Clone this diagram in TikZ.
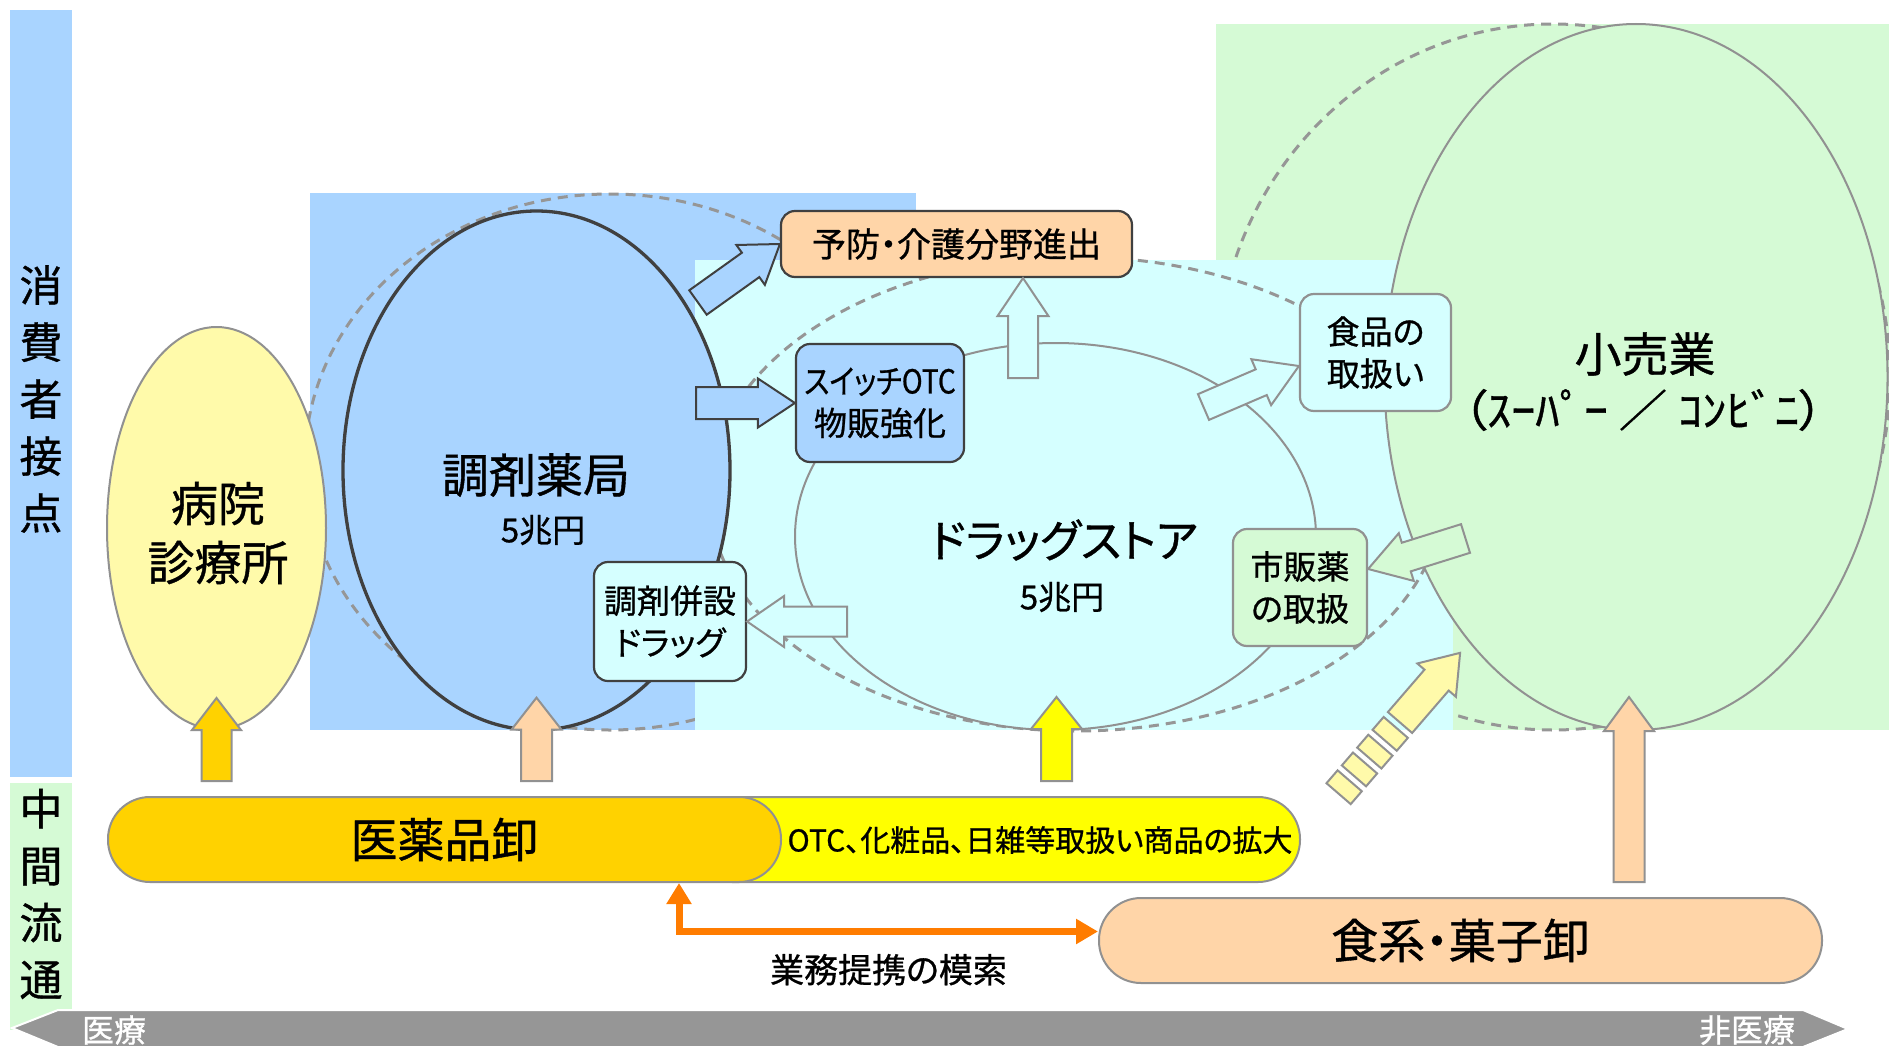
\documentclass[tikz,border=0pt]{standalone}
\usepackage{fontspec}
\setmainfont{Noto Sans CJK JP}[RawFeature=+palt, FakeBold=0.8]
\usetikzlibrary{calc,shapes.geometric,arrows.meta}

\definecolor{iryoblue}{RGB}{169,212,255}
\definecolor{dscyan}{RGB}{213,255,255}
\definecolor{kgreen}{RGB}{213,250,213}
\definecolor{paleyellow}{RGB}{255,250,170}
\definecolor{peach}{RGB}{255,213,168}
\definecolor{gold}{RGB}{255,210,0}
\definecolor{otcyellow}{RGB}{255,255,0}
\definecolor{teikeiorange}{RGB}{255,124,0}
\definecolor{axisgrey}{RGB}{150,150,150}
\definecolor{lgrey}{RGB}{145,145,145}
\definecolor{dgrey}{RGB}{64,64,64}

% block arrow: [style]{tail}{tip}{half shaft}{half head}{head length}
\newcommand{\blockarrow}[6][]{%
  \coordinate (hb) at ($(#3)!#6!(#2)$);
  \draw[#1] ($(#2)!#4!90:(#3)$) -- ($(hb)!#4!90:(#3)$) -- ($(hb)!#5!90:(#3)$)
    -- (#3) -- ($(hb)!#5!-90:(#3)$) -- ($(hb)!#4!-90:(#3)$)
    -- ($(#2)!#4!-90:(#3)$) -- cycle;}

\begin{document}
\begin{tikzpicture}[x=1pt, y=-1pt,
  bartxt/.style={align=center, font={\fontsize{43pt}{57pt}\selectfont}},
  bigtxt/.style={align=center, font={\fontsize{47pt}{59pt}\selectfont}},
  sumtxt/.style={font={\fontsize{33pt}{40pt}\selectfont}},
  boxtxt/.style={align=center, font={\fontsize{33pt}{42pt}\selectfont}},
  axistxt/.style={text=white, font={\fontsize{32pt}{38pt}\selectfont}},
  grp/.style={draw=axisgrey, line width=3pt, dash pattern=on 10pt off 7pt},
  oval/.style={ellipse, draw=lgrey, line width=2pt, inner sep=0pt},
  tagbox/.style={rectangle, rounded corners=14pt, line width=2.2pt, inner sep=0pt},
  pill/.style={rectangle, draw=lgrey, line width=2pt, rounded corners=42pt, minimum height=85pt, inner sep=0pt},
  bluearr/.style={draw=dgrey, line width=2pt, fill=iryoblue},
  cyanarr/.style={draw=lgrey, line width=2pt, fill=dscyan},
  greenarr/.style={draw=lgrey, line width=2pt, fill=kgreen},
  uparr/.style={draw=lgrey, line width=2pt, fill=#1},
  stripe/.style={draw=lgrey, line width=2pt, fill=paleyellow},
  teikei/.style={draw=teikeiorange, line width=7pt,
    {Triangle[width=24pt,length=21pt]}-{Triangle[width=24pt,length=22pt]}}]

  \useasboundingbox (0,0) rectangle (1889,1049);

  % side bars and axis
  \fill[iryoblue] (10,10) rectangle (72,777);
  \fill[kgreen] (10,783) rectangle (72,1030);
  \node[bartxt] (shohi) at (41,399) {消\\費\\者\\接\\点};
  \node[bartxt] (chukan) at (41,894) {中\\間\\流\\通};
  \draw[white, line width=2pt, fill=axisgrey] (12,1028) -- (58,1010) -- (1803,1010)
    -- (1848,1029) -- (1803,1047) -- (58,1047) -- cycle;
  \node[axistxt] (iryo) at (114,1030) {医療};
  \node[axistxt] (hiiryo) at (1747,1030) {非医療};

  % areas
  \fill[iryoblue] (310,193) rectangle (916,730);
  \draw[grp] (610,462) ellipse [x radius=305pt, y radius=268pt];
  \fill[kgreen] (1216,24) rectangle (1889,730);
  \draw[grp] (1553,377) ellipse [x radius=337pt, y radius=353pt];
  \fill[dscyan] (695,260) rectangle (1453,730);
  \draw[grp] (1076,494) ellipse [x radius=367pt, y radius=237pt];

  % markets
  \node[oval, fill=paleyellow, minimum width=219pt, minimum height=402pt] (byoin) at (216.5,528) {};
  \node[bigtxt] (byoin-t) at (218,533) {病院\\診療所};

  \node[oval, fill=dscyan, minimum width=521pt, minimum height=387pt] (drug) at (1055.5,536.5) {};
  \node[font={\fontsize{45pt}{52pt}\selectfont}] (drug-t) at (1064,540) {ドラッグストア};
  \node[sumtxt] (drug-v) at (1062,597) {5兆円};

  \node[oval, draw=dgrey, line width=3.3pt, fill=iryoblue, minimum width=387pt, minimum height=519pt] (chozai) at (536.5,470.5) {};
  \node[bigtxt] (chozai-t) at (536,475) {調剤薬局};
  \node[sumtxt] (chozai-v) at (543,530) {5兆円};

  \node[oval, fill=kgreen, minimum width=503pt, minimum height=706pt] (kouri) at (1636,377) {};
  \node[bigtxt] (kouri-t) at (1645,354) {小売業};
  \node[font={\fontsize{44pt}{50pt}\selectfont}] (kouri-s) at (1643,410) {\scalebox{1.1}[1]{（ｽｰﾊﾟｰ ／ ｺﾝﾋﾞﾆ）}};

  % boxes
  \node[tagbox, draw=dgrey, fill=peach, minimum width=351pt, minimum height=66pt,
    font={\fontsize{34pt}{40pt}\selectfont}] (yobou) at (956.5,244) {予防・介護分野進出};
  \node[tagbox, draw=dgrey, fill=iryoblue, minimum width=168pt, minimum height=118pt, boxtxt] (switch) at (880,403) {\scalebox{0.85}[1]{スイッチOTC}\\物販強化};
  \node[tagbox, draw=lgrey, fill=dscyan, minimum width=151pt, minimum height=117pt, boxtxt] (shokuhin) at (1375.5,352.5) {食品の\\取扱い};
  \node[tagbox, draw=lgrey, fill=kgreen, minimum width=134pt, minimum height=117pt, boxtxt] (shihan) at (1300,587.5) {市販薬\\の取扱};
  \node[tagbox, draw=dgrey, fill=dscyan, minimum width=152pt, minimum height=119pt, boxtxt] (heisetsu) at (670,621.5) {調剤併設\\ドラッグ};

  % block arrows
  \coordinate (a1) at (698,302.5);
  \blockarrow[bluearr]{a1}{yobou.west}{15pt}{24.5pt}{36pt}
  \coordinate (a2) at (696,403);
  \blockarrow[bluearr]{a2}{switch.west}{16pt}{24.5pt}{37pt}
  \coordinate (a3) at (1023,378);
  \coordinate (a3t) at ([xshift=66.5pt]yobou.south);
  \blockarrow[cyanarr]{a3}{a3t}{15pt}{25.5pt}{38pt}
  \coordinate (a4) at (1203.5,407);
  \coordinate (a4t) at ([yshift=-13.5pt]shokuhin.west);
  \blockarrow[cyanarr]{a4}{a4t}{14pt}{25pt}{41pt}
  \coordinate (a5) at (847,621.5);
  \blockarrow[cyanarr]{a5}{heisetsu.east}{15pt}{25.5pt}{37pt}
  \coordinate (a6) at (1465.5,538.5);
  \coordinate (a6t) at ([yshift=18.5pt]shihan.east);
  \blockarrow[greenarr]{a6}{a6t}{15pt}{25pt}{40pt}

  % wholesalers
  \node[pill, fill=otcyellow, minimum width=610pt] (kakudai) at (995,839.5) {};
  \node[font={\fontsize{30pt}{36pt}\selectfont}] (kakudai-t) at (1040,840) {OTC、化粧品、日雑等取扱い商品の拡大};
  \node[pill, fill=gold, minimum width=673pt, bigtxt] (oroshi) at (444.5,839.5) {医薬品卸};
  \node[pill, fill=peach, minimum width=723pt, bigtxt] (kashi) at (1460.5,940.5) {食系・菓子卸};

  \draw[teikei] ([xshift=234.5pt]oroshi.south) |- node[pos=0.75, below=19pt, inner sep=0pt,
    font={\fontsize{34pt}{40pt}\selectfont}] (teikei-t) {業務提携の模索} ([yshift=9pt]kashi.west);

  % supply arrows
  \coordinate (v1) at (216.5,781);
  \coordinate (v1t) at ([yshift=32pt]byoin.south);
  \blockarrow[uparr=gold]{v1}{v1t}{15pt}{24.5pt}{32pt}
  \coordinate (v2) at (536.5,781);
  \coordinate (v2t) at ([yshift=34pt]chozai.south);
  \blockarrow[uparr=peach]{v2}{v2t}{15.5pt}{25pt}{32pt}
  \coordinate (v3) at (1056.5,781);
  \coordinate (v3t) at ([xshift=1pt,yshift=34pt]drug.south);
  \blockarrow[uparr=otcyellow]{v3}{v3t}{15.5pt}{25.5pt}{32pt}
  \coordinate (v4) at (1629,882);
  \coordinate (v4t) at ([xshift=-7pt,yshift=34pt]kouri.south);
  \blockarrow[uparr=peach]{v4}{v4t}{15.5pt}{25pt}{34pt}

  % striped arrow towards retail
  \begin{scope}[shift={(1400,722.5)}, rotate=49.2]
    \draw[stripe] (0,-16) -- (56,-16) -- (56,-25.5) -- (92,0) -- (56,25.5) -- (56,16) -- (0,16) -- cycle;
    \foreach \s in {6.5,30,53.5,77}
      \draw[stripe] (-\s,-16) rectangle (-\s-17,16);
  \end{scope}
\end{tikzpicture}
\end{document}
